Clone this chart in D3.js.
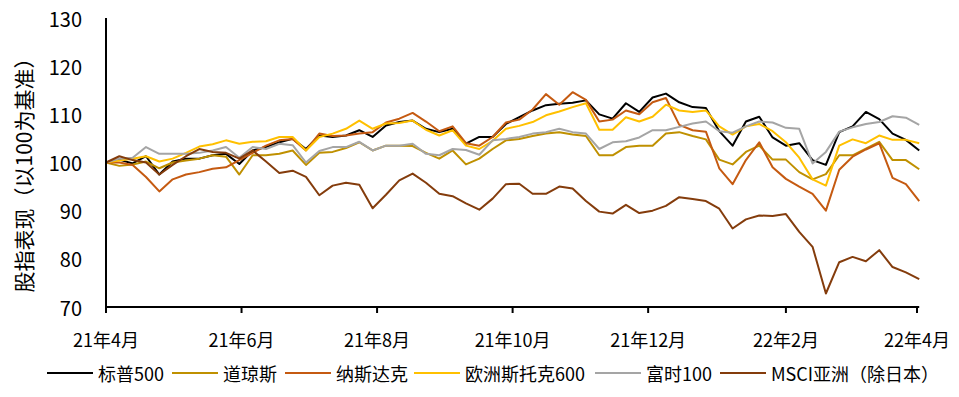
<!DOCTYPE html>
<html>
<head>
<meta charset="utf-8">
<script src="https://cdn.jsdelivr.net/npm/d3@7"></script>
<style>
  body { margin: 0; background: #fff; }
  text { font-family: "Noto Sans CJK SC", "Noto Sans", sans-serif; fill: #000; }
</style>
</head>
<body>
<div id="chart"></div>
<script>
// sample dates (every 6 days)
const dates = [
  '2021-04-01','2021-04-07','2021-04-13','2021-04-19','2021-04-25','2021-05-01','2021-05-07','2021-05-13',
  '2021-05-19','2021-05-25','2021-05-31','2021-06-06','2021-06-12','2021-06-18','2021-06-24','2021-06-30',
  '2021-07-06','2021-07-12','2021-07-18','2021-07-24','2021-07-30','2021-08-05','2021-08-11','2021-08-17',
  '2021-08-23','2021-08-29','2021-09-04','2021-09-10','2021-09-16','2021-09-22','2021-09-28','2021-10-04',
  '2021-10-10','2021-10-16','2021-10-22','2021-10-28','2021-11-03','2021-11-09','2021-11-15','2021-11-21',
  '2021-11-27','2021-12-03','2021-12-09','2021-12-15','2021-12-21','2021-12-27','2022-01-02','2022-01-08',
  '2022-01-14','2022-01-20','2022-01-26','2022-02-01','2022-02-07','2022-02-13','2022-02-19','2022-02-25',
  '2022-03-03','2022-03-09','2022-03-15','2022-03-21','2022-03-27','2022-04-02'
];

const sp500 = [100,100.6,99.8,101.3,97.5,100.2,100.8,100.8,101.5,101.8,99.7,102.5,103.2,104.2,104.9,102.8,
  105.6,105.3,105.6,106.7,105.3,107.7,108.4,108.7,107.0,106.3,107.0,103.9,105.3,105.3,108.0,109.4,
  110.8,111.9,112.2,112.4,112.9,110.0,109.1,112.3,110.5,113.5,114.3,112.5,111.5,111.3,106.5,103.5,
  108.5,109.5,105.2,103.5,104.0,100.5,99.5,106.3,107.5,110.5,109.0,106.0,104.7,102.5];

const dow = [100,99.3,99.6,100.2,98.8,100.0,100.4,100.8,101.5,101.2,97.5,101.5,101.5,101.8,102.5,99.5,
  102.0,102.2,103.0,104.2,102.5,103.5,103.5,103.4,102.0,100.8,102.5,99.6,100.8,102.8,104.6,104.9,
  105.5,106.0,106.3,105.8,105.5,101.5,101.5,103.2,103.5,103.5,106.0,106.3,105.5,104.8,100.6,99.6,
  102.2,103.5,100.6,100.6,98.0,96.5,97.6,101.5,101.5,102.9,104.3,100.5,100.5,98.6];

const nasdaq = [100,100.0,99.5,97.0,94.0,96.5,97.5,98.0,98.7,99.0,100.5,102.0,103.5,104.6,104.9,102.5,
  106.0,105.5,105.6,106.0,106.3,108.3,109.1,110.3,108.5,106.5,107.5,104.0,103.5,105.3,108.3,108.9,
  111.0,114.2,112.0,114.6,113.0,108.5,108.9,110.8,110.0,112.5,113.4,107.8,106.7,106.4,98.8,95.5,
  100.5,104.2,99.0,96.6,95.0,93.5,90.0,98.5,101.2,102.7,104.0,96.8,95.5,92.0];

const stoxx600 = [100,100.4,100.8,101.3,100.2,100.8,102.0,103.3,103.8,104.6,103.9,104.3,104.4,105.3,105.3,102.5,
  105.3,106.0,107.0,108.7,107.0,108.1,108.2,108.7,106.8,105.6,106.7,103.5,102.8,104.5,107.0,107.6,
  108.4,109.8,110.6,111.5,112.3,106.8,106.8,109.4,108.5,109.5,112.0,110.8,110.5,110.8,107.5,105.8,
  107.5,108.0,106.5,104.2,101.0,96.5,95.2,103.5,104.8,104.0,105.6,104.7,104.7,104.0];

const ftse100 = [100,100.8,101.0,103.2,101.8,101.8,101.8,102.0,102.5,103.2,101.0,103.2,102.8,103.9,103.6,100.0,
  102.4,103.2,103.2,104.3,102.5,103.5,103.5,103.9,101.8,101.5,102.8,102.6,101.6,104.6,104.9,105.3,
  106.0,106.3,107.0,106.3,106.0,102.8,104.2,104.4,105.2,106.7,106.7,107.4,108.1,108.5,106.5,106.2,
  107.5,108.5,108.3,107.2,107.0,99.8,102.2,106.4,107.3,108.0,108.4,109.6,109.3,107.8];

const msciAsia = [100,101.3,100.5,100.0,97.5,99.5,101.3,102.8,102.2,102.0,100.8,102.5,100.2,97.8,98.3,97.0,
  93.2,95.2,95.8,95.4,90.5,93.3,96.3,97.7,95.8,93.5,93.0,91.5,90.2,92.5,95.5,95.6,
  93.5,93.5,95.0,94.6,92.0,89.8,89.4,91.2,89.5,90.0,91.0,92.8,92.4,92.0,90.4,86.3,
  88.2,89.0,88.9,89.3,85.6,82.5,72.8,79.3,80.4,79.5,81.8,78.3,77.2,75.8];

const seriesNames = ['标普500', '道琼斯', '纳斯达克', '欧洲斯托克600', '富时100', 'MSCI亚洲（除日本）'];
const seriesValues = [sp500, dow, nasdaq, stoxx600, ftse100, msciAsia];
const seriesColors = ['#000000', '#BF9000', '#C55A11', '#FFC000', '#A5A5A5', '#843C0C'];

const tickDates = ['2021-04-01', '2021-06-01', '2021-08-01', '2021-10-01', '2021-12-01', '2022-02-01', '2022-04-01'];
const tickLabels = ['21年4月', '21年6月', '21年8月', '21年10月', '21年12月', '22年2月', '22年4月'];
const yTicks = [70, 80, 90, 100, 110, 120, 130];
const yTitle = '股指表现（以100为基准）';

const width = 959;
const height = 397;
const margin = { top: 18, left: 106, bottomY: 307 };
const legendX = [47, 172, 285, 414, 595, 720];

const parse = d3.timeParse('%Y-%m-%d');
const dateObjs = dates.map(parse);

const svg = d3.select('#chart')
  .append('svg')
  .attr('width', width)
  .attr('height', height);

const x = d3.scaleTime()
  .domain([parse(tickDates[0]), parse(tickDates[tickDates.length - 1])])
  .range([margin.left, 917]);

const y = d3.scaleLinear()
  .domain([70, 130])
  .range([margin.bottomY, margin.top]);

// y tick labels (no tick marks)
svg.append('g')
  .selectAll('text')
  .data(yTicks)
  .enter()
  .append('text')
  .attr('x', 82)
  .attr('y', (d) => y(d))
  .attr('text-anchor', 'end')
  .attr('dominant-baseline', 'central')
  .attr('font-size', '20px')
  .text((d) => d);

// y title
svg.append('text')
  .attr('transform', 'translate(23,' + 170 + ') rotate(-90)')
  .attr('text-anchor', 'middle')
  .attr('dominant-baseline', 'central')
  .attr('font-size', '21px')
  .text(yTitle);

// lines
const line = d3.line()
  .x((d, i) => x(dateObjs[i]))
  .y((d) => y(d));

svg.append('g')
  .selectAll('path')
  .data(seriesValues)
  .enter()
  .append('path')
  .attr('d', (d) => line(d))
  .attr('fill', 'none')
  .attr('stroke', (d, i) => seriesColors[i])
  .attr('stroke-width', 2)
  .attr('stroke-linejoin', 'round');

// axes lines
const xEnd = x(dateObjs[dateObjs.length - 1]);
svg.append('line')
  .attr('x1', margin.left).attr('x2', margin.left)
  .attr('y1', margin.top).attr('y2', margin.bottomY)
  .attr('stroke', '#000').attr('stroke-width', 2);

svg.append('line')
  .attr('x1', margin.left - 1).attr('x2', xEnd)
  .attr('y1', margin.bottomY).attr('y2', margin.bottomY)
  .attr('stroke', '#000').attr('stroke-width', 2);

const xt = svg.append('g')
  .selectAll('g')
  .data(tickDates)
  .enter()
  .append('g')
  .attr('transform', (d) => 'translate(' + x(parse(d)) + ',0)');

xt.append('line')
  .attr('y1', margin.bottomY).attr('y2', margin.bottomY + 6)
  .attr('stroke', '#000').attr('stroke-width', 2);

xt.append('text')
  .attr('y', 339)
  .attr('text-anchor', 'middle')
  .attr('dominant-baseline', 'central')
  .attr('font-size', '18px')
  .text((d, i) => tickLabels[i]);

// legend
const lg = svg.append('g')
  .selectAll('g')
  .data(seriesNames)
  .enter()
  .append('g')
  .attr('transform', (d, i) => 'translate(' + legendX[i] + ',373)');

lg.append('line')
  .attr('x1', 0).attr('x2', 46)
  .attr('stroke', (d, i) => seriesColors[i])
  .attr('stroke-width', 2);

lg.append('text')
  .attr('x', 51)
  .attr('dominant-baseline', 'central')
  .attr('font-size', '18px')
  .text((d) => d);
</script>
</body>
</html>
